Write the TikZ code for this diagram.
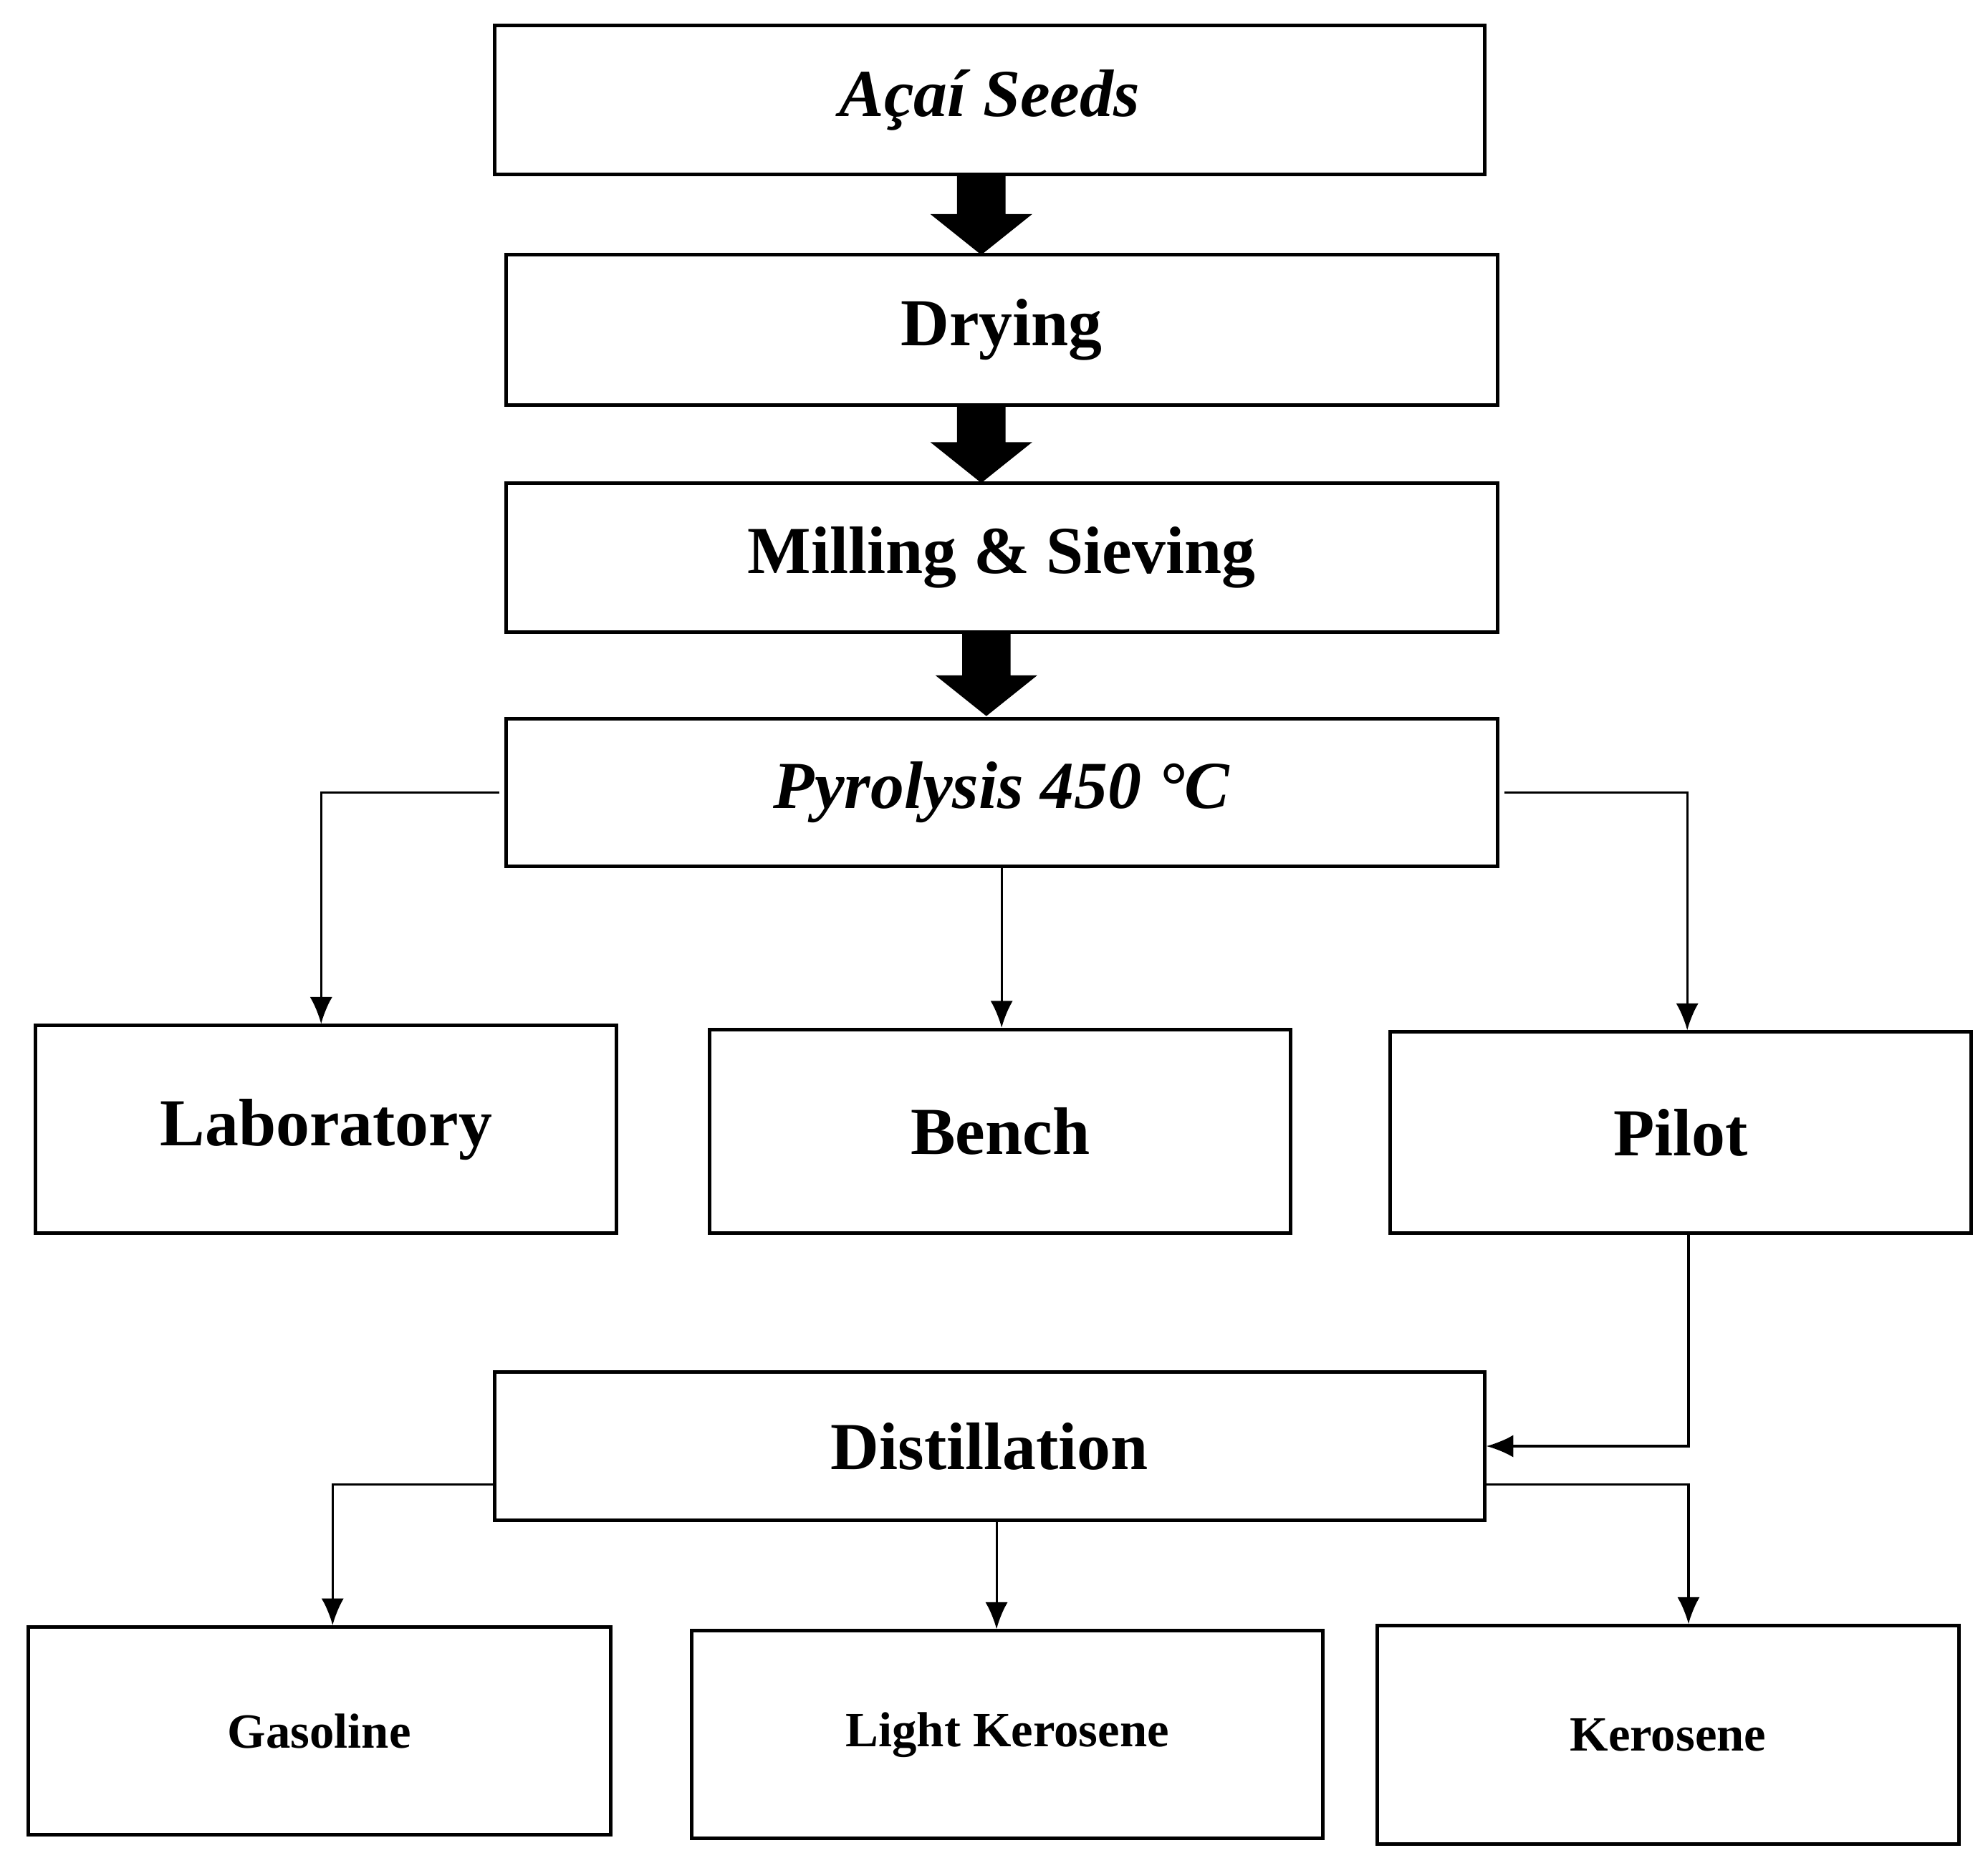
\documentclass[tikz,border=0pt]{standalone}
\usepackage{fontspec}
\usetikzlibrary{arrows.meta}
\setmainfont{Liberation Serif}
\begin{document}
\begin{tikzpicture}[x=0.02cm,y=-0.02cm,
 box/.style={draw,line width=1.6pt,inner sep=0pt,font=\bfseries\fontsize{30}{34}\selectfont},
 sbox/.style={draw,line width=1.6pt,inner sep=0pt,font=\bfseries\fontsize{22}{26}\selectfont},
 thin/.style={line width=1pt,-{Latex[length=12pt,width=10pt]}}]
\useasboundingbox (0,0) rectangle (1560,1458);
\newcommand{\bx}[6]{\node[#1,minimum width={(#4-#3)*0.02cm},minimum height={(#6-#5)*0.02cm}] (#2) at ({(#3+#4)/2},{(#5+#6)/2}) {};}
\bx{box}{seeds}{388}{1165}{20}{137}
\bx{box}{dry}{397}{1175}{200}{318}
\bx{box}{mill}{397}{1175}{379}{496}
\bx{box}{pyro}{397}{1175}{564}{680}
\bx{box}{lab}{28}{484}{805}{968}
\bx{box}{bench}{557}{1013}{808}{968}
\bx{box}{pilot}{1091}{1547}{810}{968}
\bx{box}{dist}{388}{1165}{1077}{1193}
\bx{sbox}{gas}{22}{479}{1277}{1440}
\bx{sbox}{lk}{543}{1038}{1280}{1443}
\bx{sbox}{ker}{1081}{1537}{1276}{1447}
\node[font=\bfseries\itshape\fontsize{30}{34}\selectfont] at (seeds) {Açaí Seeds};
\node[font=\bfseries\fontsize{30}{34}\selectfont] at (dry) {Drying};
\node[font=\bfseries\fontsize{30}{34}\selectfont] at (mill) {Milling \& Sieving};
\node[font=\bfseries\itshape\fontsize{30}{34}\selectfont] at (pyro) {Pyrolysis 450 °C};
\node[font=\bfseries\fontsize{30}{34}\selectfont] at (lab) {Laboratory};
\node[font=\bfseries\fontsize{30}{34}\selectfont] at (bench) {Bench};
\node[font=\bfseries\fontsize{30}{34}\selectfont] at (pilot) {Pilot};
\node[font=\bfseries\fontsize{30}{34}\selectfont] at (dist) {Distillation};
\node[font=\bfseries\fontsize{22}{26}\selectfont] at (gas) {Gasoline};
\node[font=\bfseries\fontsize{22}{26}\selectfont] at (lk) {Light Kerosene};
\node[font=\bfseries\fontsize{22}{26}\selectfont] at (ker) {Kerosene};
% block arrows
\newcommand{\blk}[3]{\fill (#1-19,#2) -- (#1+19,#2) -- (#1+19,#3-32) -- (#1+40,#3-32) -- (#1,#3) -- (#1-40,#3-32) -- (#1-19,#3-32) -- cycle;}
\blk{770}{138}{200}
\blk{770}{319}{379}
\blk{774}{497}{562}
% thin arrows
\draw[thin] (pyro.west) ++(-4,0) -| (lab.north -| 252,0);
\draw[thin] (pyro.south -| 786,0) -- (bench.north -| 786,0);
\draw[thin] (pyro.east) ++(4,0) -| (pilot.north -| 1324,0);
\draw[thin] (pilot.south -| 1325,0) |- (dist.east);
\draw[thin] (dist.west |- 0,1165) -| (gas.north -| 261,0);
\draw[thin] (dist.south -| 782,0) -- (lk.north -| 782,0);
\draw[thin] (dist.east |- 0,1165) -| (ker.north -| 1325,0);
\end{tikzpicture}
\end{document}
